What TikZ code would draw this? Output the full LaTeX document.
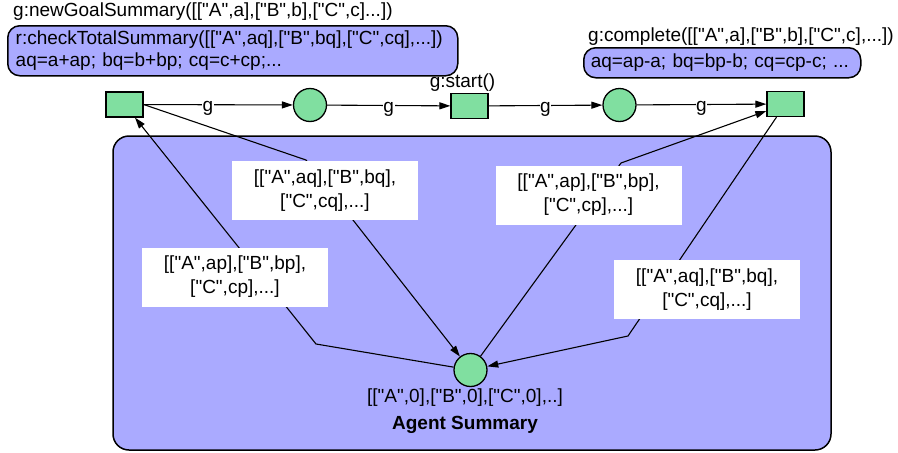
\documentclass[tikz,border=0pt]{standalone}
\usepackage{fontspec}
\setmainfont{Liberation Sans}[Ligatures=TeXOff]
\usetikzlibrary{arrows.meta}

\definecolor{pgreen}{RGB}{128,223,160}
\definecolor{pblue}{RGB}{170,170,255}

\begin{document}
\begin{tikzpicture}[x=1pt,y=-1pt,
  font=\fontsize{19}{22}\selectfont,
  trans/.style={draw, fill=pgreen, line width=1.3pt, minimum width=37pt, minimum height=25pt, inner sep=0pt},
  place/.style={circle, draw, fill=pgreen, line width=1.3pt, minimum size=33pt, inner sep=0pt},
  arc/.style={-{Triangle[length=11pt,width=7pt]}, line width=1.1pt},
  glbl/.style={fill=white, inner sep=0.5pt, anchor=base, yshift=-7pt},
  inscr/.style={fill=white, align=center, inner sep=0pt, minimum width=186pt, minimum height=59pt, font=\fontsize{19}{24}\selectfont},
  notebox/.style={draw, fill=pblue, line width=1.5pt, rounded corners=12pt, anchor=north west, align=left, inner ysep=0pt},
  plain/.style={inner sep=0pt}
]
\useasboundingbox (0,0) rectangle (898,453);

% agent summary area
\draw[line width=1.5pt, fill=pblue, rounded corners=16pt] (113,136) rectangle (831,450);

% goal net
\node[trans] (t1) at (124.5,104.5) {};
\node[place] (p1) at (310,105) {};
\node[trans] (t2) at (469.5,106) {};
\node[place] (p2) at (619.5,105) {};
\node[trans] (t3) at (785.5,104) {};
\node[place] (ps) at (470.5,370) {};

% inscriptions of the transitions
\node[plain, anchor=west] (n1) at (13,12) {g:newGoalSummary([["A",a],["B",b],["C",c]...])};
\node[notebox, text width=434pt, inner xsep=8pt, minimum height=50pt] (c1) at (7,25)
  {r:checkTotalSummary([["A",aq],["B",bq],["C",cq],...])\\aq=a+ap; bq=b+bp; cq=c+cp;...};
\node[plain] (n2) at (462.5,83) {g:start()};
\node[plain, anchor=west] (n3) at (588,37) {g:complete([["A",a],["B",b],["C",c],...])};
\node[notebox, text width=263pt, inner xsep=7pt, minimum height=30pt] (c3) at (583,47)
  {aq=ap-a; bq=bp-b; cq=cp-c; ...};

% summary place labels
\node[plain] (m0) at (465,398) {[["A",0],["B",0],["C",0],..]};
\node[plain, font=\fontsize{19}{22}\selectfont\bfseries] (mname) at (465,425) {Agent Summary};

% goal flow
\draw[arc] (t1) -- node[glbl, pos=0.43] {g} (p1);
\draw[arc] (p1) -- node[glbl] {g} (t2);
\draw[arc] (t2) -- node[glbl] {g} (p2);
\draw[arc] (p2) -- node[glbl] {g} (t3);

% bend points of the summary arcs
\coordinate (b1) at (316,344);
\coordinate (b2) at (306,160);
\coordinate (b3) at (621,163);
\coordinate (b4) at (628,336);

% arcs between the goal net and the agent summary
\draw[arc] (ps) -- (b1) -- ([xshift=10.5pt]t1.south);
\draw[arc] (t1.east) -- (b2) -- (ps);
\draw[arc] (ps) -- (b3) -- ([yshift=-7pt]t3.west);
\draw[arc] ([xshift=-9pt]t3.south) -- (b4) -- (ps);

% arc inscriptions
\node[inscr] (la) at (325,190.5) {[["A",aq],["B",bq],\\{}["C",cq],...]};
\node[inscr] (lb) at (235,277) {[["A",ap],["B",bp],\\{}["C",cp],...]};
\node[inscr] (lc) at (588.5,195) {[["A",ap],["B",bp],\\{}["C",cp],...]};
\node[inscr] (ld) at (707,289.5) {[["A",aq],["B",bq],\\{}["C",cq],...]};
\end{tikzpicture}
\end{document}
